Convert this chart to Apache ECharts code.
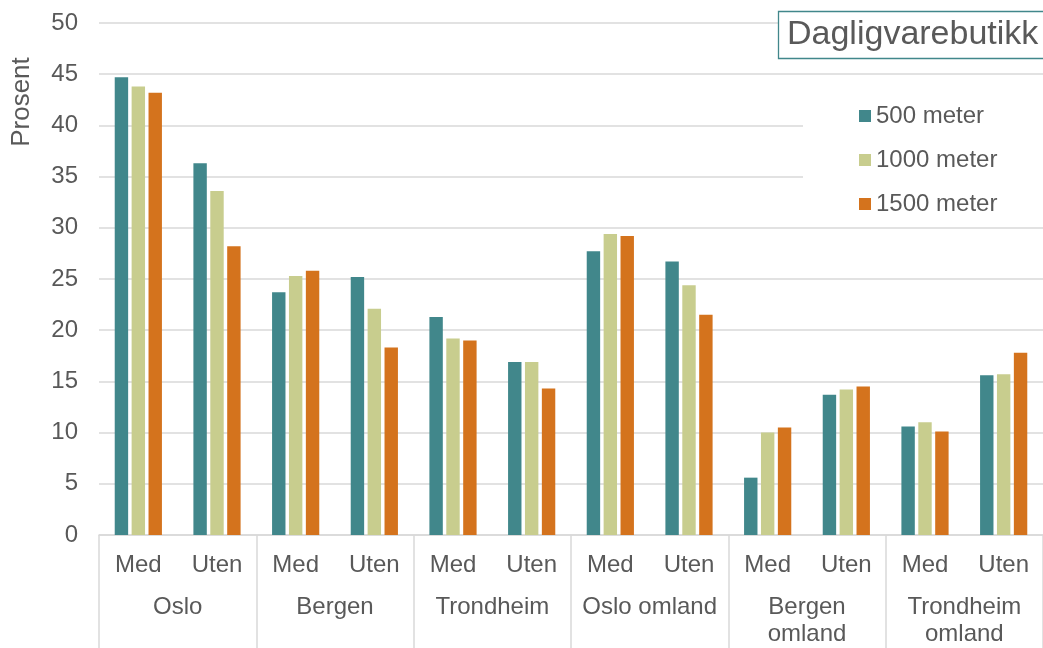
<!DOCTYPE html>
<html>
<head>
<meta charset="utf-8">
<script src="https://cdn.jsdelivr.net/npm/echarts@6/dist/echarts.min.js"></script>
<style>
  html, body { margin: 0; padding: 0; background: #fff; }
  #chart { width: 1043px; height: 648px; }
</style>
</head>
<body>
<div id="chart"></div>
<script>
// Share of trips (%) by distance to grocery store, with/without, per region
const subCategories = ['Med', 'Uten', 'Med', 'Uten', 'Med', 'Uten', 'Med', 'Uten', 'Med', 'Uten', 'Med', 'Uten'];
const groups = ['Oslo', 'Bergen', 'Trondheim', 'Oslo omland', 'Bergen\nomland', 'Trondheim\nomland'];
const seriesNames = ['500 meter', '1000 meter', '1500 meter'];
const values500 = [44.7, 36.3, 23.7, 25.2, 21.3, 16.9, 27.7, 26.7, 5.6, 13.7, 10.6, 15.6];
const values1000 = [43.8, 33.6, 25.3, 22.1, 19.2, 16.9, 29.4, 24.4, 10.0, 14.2, 11.0, 15.7];
const values1500 = [43.2, 28.2, 25.8, 18.3, 19.0, 14.3, 29.2, 21.5, 10.5, 14.5, 10.1, 17.8];
const yTicks = { min: 0, max: 50, interval: 5 };
const colors = ['#41878B', '#C8CD8E', '#D4731D'];

const textColor = '#595959';
const gridColor = '#D9D9D9';
const font = 'Liberation Sans, Arial, sans-serif';

const chart = echarts.init(document.getElementById('chart'));
chart.setOption({
  animation: false,
  color: colors,
  textStyle: { fontFamily: font },
  title: {
    text: 'Dagligvarebutikk',
    left: 778,
    top: 11,
    padding: [6, 40, 6, 9],
    backgroundColor: '#fff',
    borderColor: '#41878B',
    borderWidth: 1.3,
    textStyle: { fontSize: 34, lineHeight: 36, fontWeight: 'normal', color: textColor, fontFamily: font }
  },
  legend: {
    orient: 'vertical',
    left: 803,
    top: 80,
    padding: [24, 60, 9, 56],
    backgroundColor: '#fff',
    itemWidth: 12,
    itemHeight: 12,
    itemGap: 20,
    itemTextGap: 5,
    icon: 'rect',
    textStyle: { fontSize: 24, lineHeight: 24, color: textColor, fontFamily: font },
    data: seriesNames
  },
  // Rotated y-axis caption placed near the top of the axis
  graphic: [{
    type: 'text',
    x: 22,
    y: 102,
    rotation: Math.PI / 2,
    style: {
      text: 'Prosent',
      fontSize: 26,
      fontFamily: font,
      fill: textColor,
      align: 'center',
      verticalAlign: 'middle'
    }
  }],
  grid: { left: 99, right: 0, top: 23, bottom: 110, containLabel: false },
  xAxis: [
    {
      type: 'category',
      data: subCategories,
      position: 'bottom',
      axisLine: { show: true, lineStyle: { color: gridColor, width: 1.5 } },
      axisTick: { show: false },
      axisLabel: { color: textColor, fontSize: 24, lineHeight: 24, margin: 18, interval: 0 }
    },
    {
      type: 'category',
      data: groups,
      position: 'bottom',
      axisLine: { show: false },
      axisTick: { show: true, length: 120, lineStyle: { color: gridColor, width: 1.5 } },
      axisLabel: { color: textColor, fontSize: 24, lineHeight: 27, margin: 59, interval: 0 }
    }
  ],
  yAxis: {
    type: 'value',
    min: yTicks.min,
    max: yTicks.max,
    interval: yTicks.interval,
    axisLine: { show: false },
    axisTick: { show: false },
    axisLabel: { color: textColor, fontSize: 24, margin: 21 },
    splitLine: { lineStyle: { color: gridColor, width: 1.5 } }
  },
  series: [
    { name: seriesNames[0], type: 'bar', xAxisIndex: 0, data: values500, barCategoryGap: '40%', barGap: '26%' },
    { name: seriesNames[1], type: 'bar', xAxisIndex: 0, data: values1000, barCategoryGap: '40%', barGap: '26%' },
    { name: seriesNames[2], type: 'bar', xAxisIndex: 0, data: values1500, barCategoryGap: '40%', barGap: '26%' }
  ]
});
</script>
</body>
</html>
